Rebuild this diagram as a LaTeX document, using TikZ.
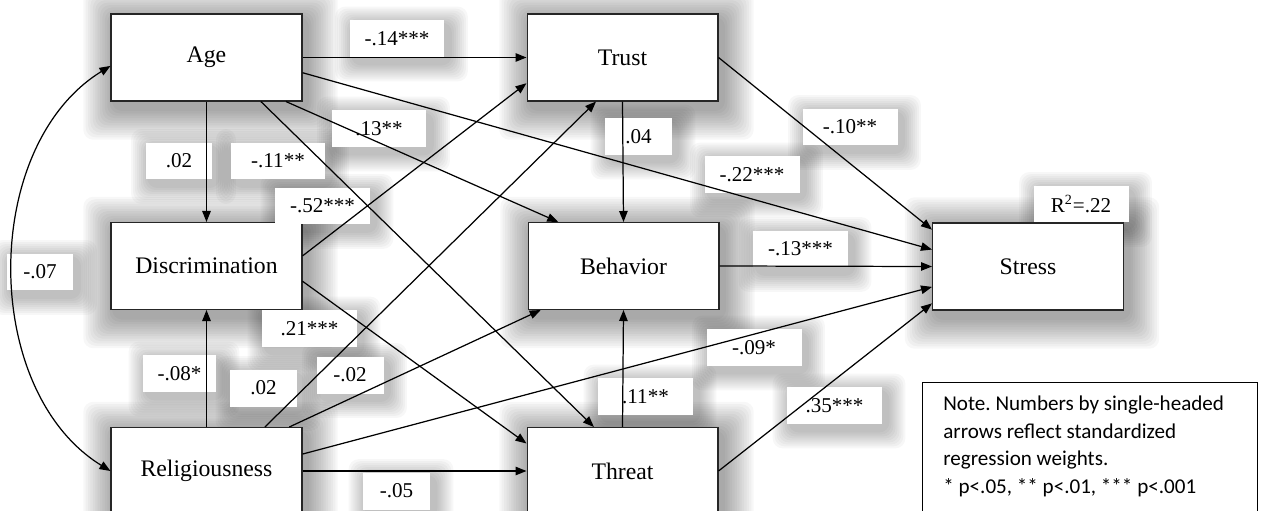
\documentclass[tikz,border=0pt]{standalone}
\usepackage{fontspec}
\setmainfont{Liberation Serif}
\newfontfamily\notefont{Carlito}
\usepackage{tikz}
\usetikzlibrary{arrows.meta,positioning,calc}
\usetikzlibrary{backgrounds}
\frenchspacing

\begin{document}
\begin{tikzpicture}[x=0.02cm, y=-0.02cm, >={Triangle[length=2.2mm,width=1.7mm]}]
    \tikzstyle{every node}=[font=\fontsize{13.5}{16}\selectfont]
    \tikzstyle{var}=[draw=black!85, fill=white, line width=0.6pt, minimum width=3.82cm, minimum height=1.74cm, inner sep=0pt]
    \tikzstyle{coef}=[fill=white, inner sep=0pt, minimum width=1.9cm, minimum height=0.74cm, font=\fontsize{12}{14}\selectfont]
    \tikzstyle{coefn}=[coef, minimum width=1.34cm]
    \tikzstyle{reg}=[->, line width=0.7pt]
    \tikzstyle{haze}=[fill=black, opacity=0.032, rounded corners=2mm]
    \useasboundingbox (0,0) rectangle (1263,510); %
    \node[var] (Age) at (206.5,57.5) {Age}; %
    \node[var] (Disc) at ($(Age)+(0,208.5)$) {Discrimination}; %
    \node[var] (Rel) at ($(Age)+(0,413.5)$) {Religiousness}; %
    \node[var] (Trust) at ($(Age)+(416,0)$) {Trust}; %
    \node[var] (Beh) at ($(Age)+(417,208.5)$) {Behavior}; %
    \node[var] (Threat) at ($(Age)+(416,413.5)$) {Threat}; %
    \node[var] (Stress) at ($(Age)+(821.5,209)$) {Stress}; %
    \node[coef] (rsq) at (1081,204) {R\textsuperscript{2}=.22}; %
    \node[coef] (cAgeTrust) at (397,38.5) {-.14***}; %
    \node[coef] (cAgeBeh) at (379,128.5) {.13**}; %
    \node[coef] (cAgeThreat) at (278,161) {-.11**}; %
    \node[coef] (cDiscTrust) at (322.5,206) {-.52***}; %
    \node[coef] (cDiscThreat) at (309.5,328.5) {.21***}; %
    \node[coef] (cAgeStress) at (752,174.5) {-.22***}; %
    \node[coef] (cTrustStress) at (850,127) {-.10**}; %
    \node[coef] (cBehStress) at (800.5,249) {-.13***}; %
    \node[coef] (cRelStress) at (754,347.5) {-.09*}; %
    \node[coef] (cThreatBeh) at (645.5,396.5) {.11**}; %
    \node[coef] (cThreatStress) at (834.5,405.5) {.35***}; %
    \node[coefn] (cAgeDisc) at (179,161) {.02}; %
    \node[coefn] (cAgeRel) at (40,272) {-.07}; %
    \node[coefn, minimum width=1.46cm] (cRelDisc) at (179.5,373.5) {-.08*}; %
    \node[coefn] (cRelTrust) at (263.5,388) {.02}; %
    \node[coefn] (cRelBeh) at (350,375) {-.02}; %
    \node[coefn] (cRelThreat) at (396.5,491) {-.05}; %
    \node[coefn] (cTrustBeh) at (638.5,136.5) {.04}; %
    \node[draw, fill=white, line width=0.6pt, minimum width=6.7cm, minimum height=3cm, anchor=north west] (Note) at (922,382) {}; %
    \node[anchor=north west, align=left, inner sep=0pt, font={\notefont\fontsize{12}{15.6}\selectfont}] (NoteTxt) at ($(Note.north west)+(21,14)$) {Note. Numbers by single-headed\\arrows reflect standardized\\regression weights.\\* p<.05, ** p<.01, *** p<.001}; %
    \begin{pgfonlayer}{background}
      \foreach \n in {Age,Disc,Rel,Trust,Beh,Threat,Stress} {
        \foreach \i in {1,...,13}
          \fill[haze] ($(\n.north west)+(4-2.4*\i,6-2.4*\i)$) rectangle ($(\n.south east)+(4+2.4*\i,7+2.4*\i)$);
      }
      \foreach \n in {rsq,cAgeTrust,cAgeBeh,cAgeThreat,cDiscTrust,cDiscThreat,cAgeStress,cTrustStress,cBehStress,cRelStress,cThreatBeh,cThreatStress,cAgeDisc,cAgeRel,cRelDisc,cRelTrust,cRelBeh,cRelThreat,cTrustBeh} {
        \foreach \i in {1,...,9}
          \fill[haze, opacity=0.03] ($(\n.north west)+(4-2*\i,5-2*\i)$) rectangle ($(\n.south east)+(5+2*\i,6+2*\i)$);
      }
    \end{pgfonlayer}
    \draw[reg] (Age.east) -- (Trust.west); %
    \draw[reg] (Age.-29.6) -- (Beh.146.1); %
    \draw[reg] (Age.-39.1) -- (Threat.123.8); %
    \draw[reg] (Age.-9.8) -- (Stress.170.1); %
    \draw[reg] (Age.south) -- (Disc.north); %
    \draw[reg] (Disc.6.6) -- (Trust.195); %
    \draw[reg] (Disc.-9.6) -- (Threat.164.8); %
    \draw[reg] (Rel.north) -- (Disc.south); %
    \draw[reg] (Rel.37.9) -- (Trust.239.6); %
    \draw[reg] (Rel.28.7) -- (Beh.208.7); %
    \draw[reg] (Rel.10.1) -- (Stress.192.75); %
    \draw[reg] (Rel.east) -- (Threat.west); %
    \draw[reg] (Trust.south) -- (Beh.north); %
    \draw[reg] (Threat.north) -- (Beh.south); %
    \draw[reg] (Trust.east) -- (Stress.159); %
    \draw[reg] (Beh.east) -- (Stress.west); %
    \draw[reg] (Threat.east) -- (Stress.201); %
    \draw[<->, line width=0.7pt] (Age.185.7) .. controls ($(Age.185.7)+(-130,80)$) and ($(Rel.west)+(-130,-80)$) .. (Rel.west); %
\end{tikzpicture}
\end{document}
